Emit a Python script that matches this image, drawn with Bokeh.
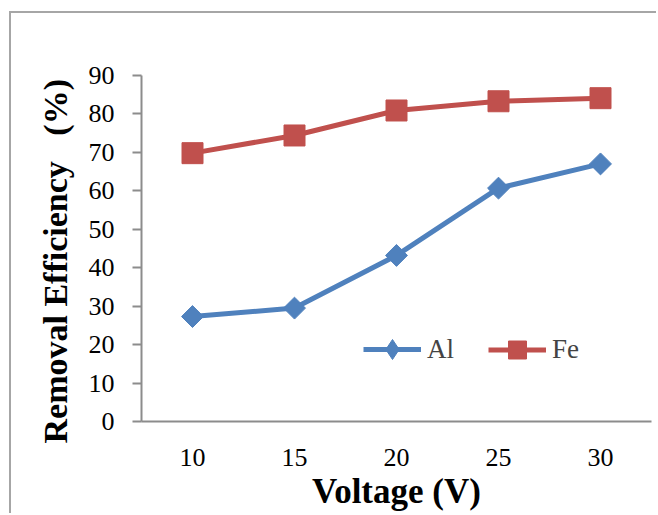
import math
from bokeh.plotting import figure
from bokeh.models import FactorRange, Range1d, Legend, LegendItem, SingleIntervalTicker
from bokeh.embed import file_html
from bokeh.resources import INLINE

voltage = ["10", "15", "20", "25", "30"]
al = [27.3, 29.5, 43.2, 60.7, 67.0]
fe = [69.8, 74.4, 80.9, 83.3, 84.1]

FONT = "Liberation Serif"
BLUE = "#4F81BD"
RED = "#C0504D"
AXIS = "#8c8c8c"
NB = "\u00a0"

p = figure(width=647, height=502, output_backend="svg", toolbar_location=None,
           x_range=FactorRange(factors=voltage), y_range=Range1d(0, 90),
           min_border_left=130, min_border_right=7, min_border_top=62, min_border_bottom=94)
p.margin = (11, 0, 0, 9)
p.styles = {"border-top": "2px solid #a6a6a6", "border-left": "2px solid #a6a6a6"}
p.outline_line_color = None
p.grid.visible = False

al_line = p.line(voltage, al, line_color=BLUE, line_width=5)
al_pts = p.scatter(voltage, al, marker="square", angle=math.pi / 4, size=15.5, color=BLUE)
fe_line = p.line(voltage, fe, line_color=RED, line_width=5)
fe_pts = p.scatter(voltage, fe, marker="square", size=21, color=RED)

# legend-only proxies (not visible in the plot) so the legend shows a diamond key
al_key_line = p.line(voltage[:1], [float("nan")], line_color=BLUE, line_width=5)
al_key_pts = p.scatter(voltage[:1], [float("nan")], marker="diamond", color=BLUE)

# axes
p.yaxis.ticker = SingleIntervalTicker(interval=10)
p.yaxis.axis_line_color = AXIS
p.yaxis.axis_line_width = 2
p.yaxis.major_tick_line_color = AXIS
p.yaxis.major_tick_line_width = 2
p.yaxis.major_tick_out = 9
p.yaxis.major_tick_in = 0
p.yaxis.minor_tick_line_color = None
p.yaxis.major_label_text_font = FONT
p.yaxis.major_label_text_font_size = "26px"
p.yaxis.major_label_text_color = "black"
p.yaxis.major_label_standoff = 18
p.yaxis.axis_label = "Removal Efficiency" + NB * 3 + "(%)" + NB * 3
p.yaxis.axis_label_text_font = FONT
p.yaxis.axis_label_text_font_size = "34px"
p.yaxis.axis_label_text_font_style = "bold"
p.yaxis.axis_label_text_color = "black"
p.yaxis.axis_label_standoff = 12

p.xaxis.axis_line_color = AXIS
p.xaxis.axis_line_width = 2
p.xaxis.major_tick_line_color = None
p.xaxis.minor_tick_line_color = None
p.xaxis.major_label_text_font = FONT
p.xaxis.major_label_text_font_size = "26px"
p.xaxis.major_label_text_color = "black"
p.xaxis.major_label_standoff = 21
p.xaxis.axis_label = "Voltage (V)"
p.xaxis.axis_label_text_font = FONT
p.xaxis.axis_label_text_font_size = "35px"
p.xaxis.axis_label_text_font_style = "bold"
p.xaxis.axis_label_text_color = "black"
p.xaxis.axis_label_standoff = 3

def make_legend(label, renderers, gh, loc):
    lg = Legend(items=[LegendItem(label=label, renderers=renderers)],
                location=loc, orientation="horizontal", glyph_width=58, glyph_height=gh,
                label_text_font=FONT, label_text_font_size="27px", label_standoff=6,
                label_text_baseline="middle",
                padding=0, margin=0, spacing=0, border_line_alpha=0, background_fill_alpha=0)
    p.add_layout(lg, "center")

make_legend("Al", [al_key_line, al_key_pts], 50, (222, 47))
make_legend("Fe", [fe_line, fe_pts], 45, (347, 49))

open("out.html", "w").write(file_html(p, INLINE))
